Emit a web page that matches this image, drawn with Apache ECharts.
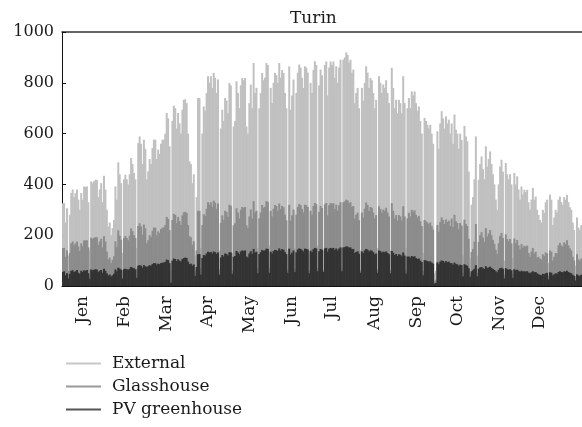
<!DOCTYPE html>
<html>
<head>
<meta charset="utf-8">
<script src="https://cdn.jsdelivr.net/npm/echarts@6.0.0/dist/echarts.min.js"></script>
<style>
html,body{margin:0;padding:0;background:#fff;}
#chart{width:582px;height:427px;}
</style>
</head>
<body>
<div id="chart"></div>
<script>
// Daily peak irradiance (W/m2), one value per day of the year
const external = [
326,326,250,306,120,280,366,380,350,366,380,340,300,366,340,392,390,392,330,140,412,405,412,418,418,350,380,405,330,434,380,
300,234,250,200,228,260,392,340,487,440,405,130,420,438,420,400,440,504,480,445,420,150,563,589,560,480,576,540,
420,451,500,480,543,576,576,500,537,520,560,576,576,600,681,660,550,60,650,710,700,620,681,640,600,694,733,735,720,600,491,
480,405,440,120,350,740,740,150,600,707,690,760,826,800,826,780,839,820,760,813,140,620,694,650,740,730,680,799,790,130,
628,650,806,760,700,790,819,810,819,628,600,720,793,700,878,760,780,150,700,760,839,810,820,878,870,160,780,720,800,839,830,
800,878,820,850,839,760,700,140,865,694,750,813,150,760,840,872,860,820,780,865,860,840,130,800,760,850,885,870,160,790,
852,830,140,870,884,750,860,884,870,884,820,865,800,860,891,150,891,900,920,910,880,891,840,852,720,760,780,700,140,780,730,
800,865,840,780,819,810,760,700,733,150,826,800,760,793,780,810,760,720,140,859,780,700,733,680,733,720,680,826,720,150,700,
740,700,766,750,766,720,690,707,650,600,130,662,650,635,620,635,600,560,50,60,609,540,640,688,660,620,668,640,655,600,
640,560,675,615,600,540,600,575,120,630,589,570,450,110,320,350,420,589,120,418,480,510,460,420,550,470,500,530,480,440,400,
340,300,400,470,497,450,100,484,440,420,440,400,110,445,400,432,380,340,392,360,379,370,379,330,300,340,386,340,352,300,
280,260,250,300,287,330,340,90,360,340,240,270,300,290,340,352,330,320,350,340,359,330,310,300,250,220,80,270,230,221,240
];
const glasshouse = [
150,150,115,140,60,130,168,175,160,168,175,156,138,168,156,180,179,180,152,65,190,186,190,192,192,161,175,186,152,196,175,
135,105,112,90,103,117,176,153,219,198,182,62,189,197,189,180,198,227,216,200,189,68,236,247,235,202,242,227,
168,180,200,192,217,230,230,200,215,208,224,230,230,240,272,264,220,20,260,284,280,248,272,256,240,278,290,292,288,240,196,
192,162,176,60,140,296,296,70,240,283,276,304,330,320,330,312,336,328,304,325,65,248,278,260,296,292,272,320,316,62,
239,247,306,289,266,300,311,308,311,239,228,274,301,266,334,289,296,70,266,289,319,308,312,334,331,72,296,274,304,319,315,
296,325,303,315,310,281,259,65,320,257,278,301,68,281,311,323,318,303,289,320,318,311,62,296,281,315,327,322,70,292,
315,307,62,322,327,278,318,327,322,327,303,320,296,318,330,66,330,333,340,337,326,330,311,315,266,281,289,259,62,289,270,
304,329,319,296,311,308,289,266,279,65,314,304,289,301,296,308,289,274,62,326,296,266,279,258,279,274,258,314,274,64,266,
288,274,300,292,298,280,270,276,255,236,58,260,255,250,244,250,236,222,20,25,240,214,252,270,260,244,262,252,257,236,
265,232,280,255,248,224,248,238,52,261,244,236,186,48,134,146,175,244,52,174,200,212,191,174,228,195,207,220,200,182,166,
143,126,168,197,209,189,45,203,185,176,185,168,48,187,168,181,160,143,165,151,159,155,159,130,115,135,150,128,135,112,
115,108,104,125,118,132,128,40,140,135,100,115,130,128,160,170,160,155,172,165,180,160,148,140,115,100,38,125,105,100,108
];
const pvGreenhouse = [
55,58,42,50,30,48,60,62,55,58,63,52,48,60,55,62,60,63,50,28,65,62,64,66,65,55,60,63,52,68,60,
50,42,45,38,42,48,65,58,72,68,64,30,66,68,66,64,68,75,72,70,66,32,80,82,80,72,82,78,
75,78,82,80,86,90,90,84,88,86,90,92,92,95,104,102,90,12,100,108,106,98,105,100,96,106,110,112,110,96,86,
88,80,85,40,75,125,126,45,110,122,120,128,135,132,134,128,136,133,127,132,45,112,122,116,128,126,120,133,132,48,
115,118,138,132,125,136,140,138,140,116,112,128,137,126,146,132,135,50,126,133,142,139,140,147,146,52,135,128,138,142,141,
138,148,140,145,143,133,125,52,147,124,131,140,55,133,144,148,146,141,136,147,146,144,50,139,133,145,150,148,58,137,
146,143,55,148,150,135,147,150,148,150,142,148,140,147,152,58,152,153,156,155,151,152,145,146,130,134,137,127,52,136,130,
140,146,143,136,140,139,133,125,128,52,140,137,132,135,133,136,130,125,50,138,131,122,126,118,125,123,117,132,120,48,116,
116,112,118,115,117,110,106,108,100,94,42,102,100,98,96,97,92,88,10,12,93,86,96,101,98,93,98,94,96,90,
90,84,92,87,85,80,84,82,38,86,82,80,70,36,58,62,68,82,38,68,73,75,70,67,78,71,73,76,71,67,63,
58,54,64,70,72,68,30,70,66,64,66,62,32,66,62,64,60,56,60,57,58,57,58,53,50,54,58,54,55,50,
46,44,42,48,46,50,52,26,54,52,42,46,50,48,55,58,55,54,58,56,60,55,52,50,44,40,22,46,42,40,44
];
const monthLabels = ['Jen','Feb','Mar','Apr','May','Jun','Jul','Aug','Sep','Oct','Nov','Dec'];
const monthLabelDays = [14.7,44.2,73.7,102.5,132,161.4,189.5,219.7,249.2,278,307.4,335.5];
const yTicks = [0,200,400,600,800,1000];
const seriesNames = ['External','Glasshouse','PV greenhouse'];

const days = external.map((_, i) => i + 1);
const FONT = 'DejaVu Serif';
const TXT = '#1a1a1a';

const chart = echarts.init(document.getElementById('chart'), null, {renderer: 'canvas'});
chart.setOption({
  animation: false,
  backgroundColor: '#ffffff',
  title: {
    text: 'Turin', left: 285, top: 5,
    textStyle: {fontFamily: FONT, fontSize: 17, fontWeight: 'normal', color: TXT}
  },
  grid: {left: 62, right: 0, top: 32, bottom: 141, containLabel: false},
  legend: {
    orient: 'vertical', left: 61, top: 350, itemGap: 6,
    itemWidth: 35, itemHeight: 2, icon: 'rect',
    textStyle: {fontFamily: FONT, fontSize: 17, color: TXT, padding: [0, 0, 0, 6]},
    data: [
      {name: seriesNames[0], itemStyle: {color: '#c8c8c8'}},
      {name: seriesNames[1], itemStyle: {color: '#9a9a9a'}},
      {name: seriesNames[2], itemStyle: {color: '#555555'}}
    ]
  },
  xAxis: [
    {
      type: 'category', data: days, position: 'bottom', boundaryGap: true,
      axisLine: {show: true, lineStyle: {color: '#111', width: 1}},
      axisTick: {show: false}, axisLabel: {show: false}, splitLine: {show: false}
    },
    {
      type: 'value', min: 0, max: 365, position: 'bottom',
      axisLine: {show: false}, axisTick: {show: false}, splitLine: {show: false},
      axisLabel: {
        show: true, rotate: 90, margin: 10,
        customValues: monthLabelDays,
        formatter: function (v) {
          const i = monthLabelDays.indexOf(v);
          return i >= 0 ? monthLabels[i] : '';
        },
        fontFamily: FONT, fontSize: 17, color: TXT
      }
    },
    {
      type: 'category', data: days, position: 'top',
      axisLine: {show: true, lineStyle: {color: '#333', width: 1.5}},
      axisTick: {show: false}, axisLabel: {show: false}, splitLine: {show: false}
    }
  ],
  yAxis: {
    type: 'value', min: yTicks[0], max: yTicks[yTicks.length - 1], interval: 200,
    axisLine: {show: true, lineStyle: {color: '#111', width: 1}},
    axisTick: {show: true, inside: true, length: 4, lineStyle: {color: '#111'}},
    splitLine: {show: false},
    axisLabel: {fontFamily: FONT, fontSize: 16, color: TXT, margin: 8,
      formatter: function (v) { return String(v); }}
  },
  series: [
    {name: seriesNames[0], type: 'bar', xAxisIndex: 0, data: external,
     barWidth: 2, barGap: '-100%', itemStyle: {color: '#c0c0c0'}, silent: true},
    {name: seriesNames[1], type: 'bar', xAxisIndex: 0, data: glasshouse,
     barWidth: 2, barGap: '-100%', itemStyle: {color: '#8c8c8c'}, silent: true},
    {name: seriesNames[2], type: 'bar', xAxisIndex: 0, data: pvGreenhouse,
     barWidth: 2, barGap: '-100%', itemStyle: {color: '#333333'}, silent: true}
  ]
});
</script>
</body>
</html>
